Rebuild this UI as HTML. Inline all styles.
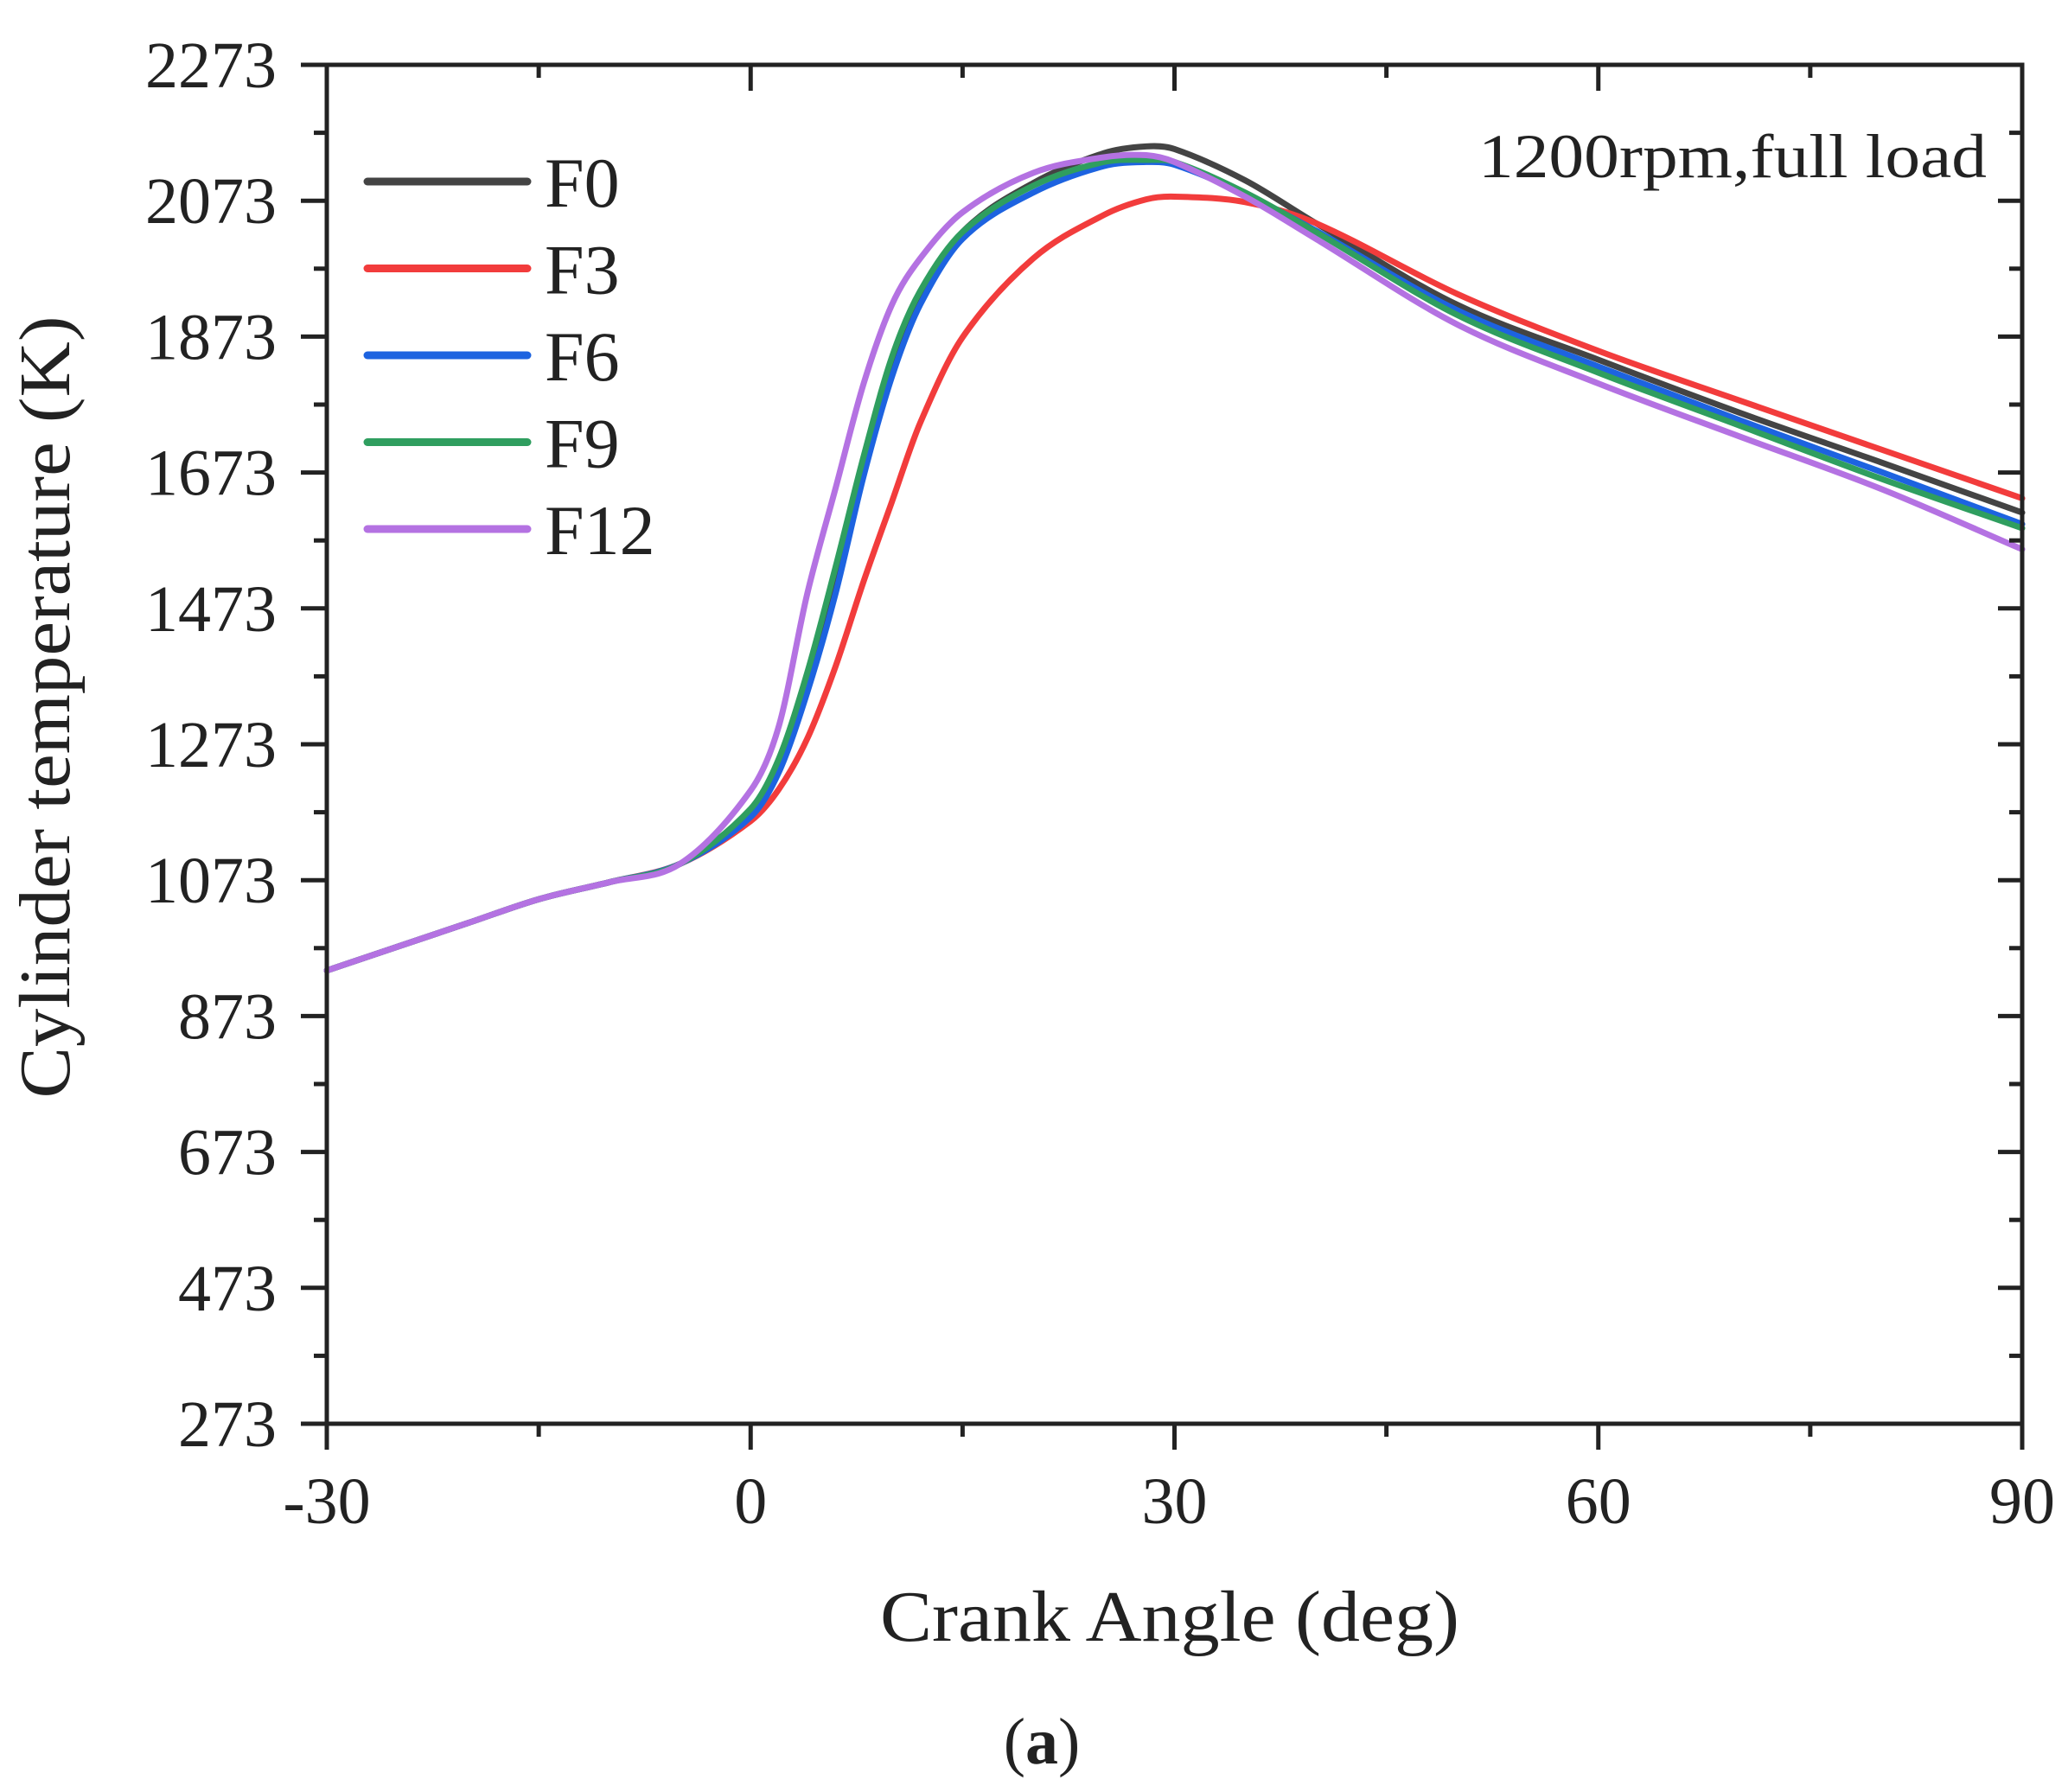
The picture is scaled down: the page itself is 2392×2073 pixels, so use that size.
<!DOCTYPE html>
<html><head><meta charset="utf-8"><style>
html,body{margin:0;padding:0;background:#fff}
svg{display:block}
text{font-family:"Liberation Serif",serif;fill:#222}
</style></head><body>
<svg id="chart" width="2392" height="2073" viewBox="0 0 2392 2073" xmlns="http://www.w3.org/2000/svg">
<g id="plot"></g>
</svg>
<script>
const categories = [-30,-25,-20,-15,-10,-5,0,2,4,6,8,10,12,15,20,25,28,30,35,40,50,60,70,80,90];
const seriesNames = ["F0","F3","F6","F9","F12"];
const seriesColors = ["#444444","#f23c3c","#1d63e0","#2f9e5f","#b472e2"];
const early = [940,975,1010,1045,1070,1097];
const valuesF0 = early.concat([1170,1238,1358,1504,1678,1823,1930,2027,2099,2143,2153,2149,2103,2040,1920,1839,1761,1688,1614]);
const valuesF3 = early.concat([1160,1207,1281,1387,1513,1630,1746,1872,1988,2052,2075,2079,2071,2040,1936,1852,1779,1707,1635]);
const valuesF6 = early.concat([1166,1232,1349,1494,1668,1814,1920,2017,2085,2124,2130,2126,2083,2029,1912,1829,1750,1674,1597]);
const valuesF9 = early.concat([1178,1252,1378,1533,1697,1843,1940,2027,2095,2130,2133,2130,2085,2027,1905,1820,1742,1664,1591]);
const valuesF12 = early.concat([1205,1300,1494,1649,1804,1920,1988,2056,2114,2137,2140,2130,2079,2017,1891,1804,1726,1649,1560]);
const xTicks = [-30,0,30,60,90];
const yTicks = [273,473,673,873,1073,1273,1473,1673,1873,2073,2273];

const L=378,R=2339,T=75,B=1647;
const xMin=-30,xMax=90,yMin=273,yMax=2273;
const sx=v=>L+(v-xMin)/(xMax-xMin)*(R-L);
const sy=v=>B-(v-yMin)/(yMax-yMin)*(B-T);
const NS="http://www.w3.org/2000/svg";
const svg=document.getElementById('chart');
function mk(tag,attrs,parent){const e=document.createElementNS(NS,tag);for(const k in attrs)e.setAttribute(k,attrs[k]);(parent||svg).appendChild(e);return e;}
function pathFor(vals){
  const p=categories.map((c,i)=>[sx(c),sy(vals[i])]);
  const n=p.length;
  const m=p.map((q,i)=>{
    const a=p[Math.max(0,i-1)],b=p[Math.min(n-1,i+1)];
    return (b[1]-a[1])/(b[0]-a[0]);
  });
  let d=`M${p[0][0]},${p[0][1]}`;
  for(let i=0;i<n-1;i++){
    const h=p[i+1][0]-p[i][0];
    d+=` C${p[i][0]+h/3},${p[i][1]+m[i]*h/3} ${p[i+1][0]-h/3},${p[i+1][1]-m[i+1]*h/3} ${p[i+1][0]},${p[i+1][1]}`;
  }
  return d;
}
const allVals=[valuesF0,valuesF3,valuesF6,valuesF9,valuesF12];
allVals.forEach((vals,i)=>{
  const el=mk('path',{d:pathFor(vals),fill:'none',stroke:seriesColors[i],'stroke-width':7,'stroke-linejoin':'round','stroke-linecap':'round'});
  
  
});
const frame=mk('rect',{x:L,y:T,width:R-L,height:B-T,fill:'none',stroke:'#222','stroke-width':5});


yTicks.forEach((v,i)=>{
  const y=sy(v);
  const t=mk('line',{x1:L-30,x2:L,y1:y,y2:y,stroke:'#222','stroke-width':5});
  
  
  const r=mk('line',{x1:R-28,x2:R,y1:y,y2:y,stroke:'#222','stroke-width':5});
  
  
  const lb=mk('text',{x:320,y:y+26,'text-anchor':'end','font-size':76});
  lb.textContent=v;
  
  
  if(i<yTicks.length-1){
    const ym=sy(v+100);
    const mm=mk('line',{x1:L-15,x2:L,y1:ym,y2:ym,stroke:'#222','stroke-width':5});
    
    
    const mr=mk('line',{x1:R-15,x2:R,y1:ym,y2:ym,stroke:'#222','stroke-width':5});
    
    
  }
});
xTicks.forEach((v,i)=>{
  const x=sx(v);
  const t=mk('line',{x1:x,x2:x,y1:B,y2:B+30,stroke:'#222','stroke-width':5});
  
  
  const tt=mk('line',{x1:x,x2:x,y1:T,y2:T+30,stroke:'#222','stroke-width':5});
  
  
  const lb=mk('text',{x:x,y:1762,'text-anchor':'middle','font-size':76});
  lb.textContent=v;
  
  
  if(i<xTicks.length-1){
    const xm=sx(v+15);
    const mm=mk('line',{x1:xm,x2:xm,y1:B,y2:B+15,stroke:'#222','stroke-width':5});
    
    
    const mt=mk('line',{x1:xm,x2:xm,y1:T,y2:T+15,stroke:'#222','stroke-width':5});
    
    
  }
});
seriesNames.forEach((n,i)=>{
  const y=210+i*100.5;
  const ln=mk('line',{x1:425,x2:610,y1:y,y2:y,stroke:seriesColors[i],'stroke-width':9,'stroke-linecap':'round'});
  
  
  const tx=mk('text',{x:630,y:y+29,'font-size':82});
  tx.textContent=n;
  
  
});
</script>
<svg style="position:absolute;left:0;top:0" width="2392" height="2073" xmlns="http://www.w3.org/2000/svg">
<text x="2298" y="205" text-anchor="end" font-size="72" textLength="588" lengthAdjust="spacingAndGlyphs">1200rpm,full load</text>
<text x="1353" y="1898" text-anchor="middle" font-size="84" textLength="670" lengthAdjust="spacingAndGlyphs">Crank Angle (deg)</text>
<text transform="translate(80,818) rotate(-90)" x="0" y="0" text-anchor="middle" font-size="84" textLength="905" lengthAdjust="spacingAndGlyphs">Cylinder temperature (K)</text>
<text x="1205" y="2040" text-anchor="middle" font-size="76">(<tspan font-weight="bold">a</tspan>)</text>
</svg>
</body></html>
